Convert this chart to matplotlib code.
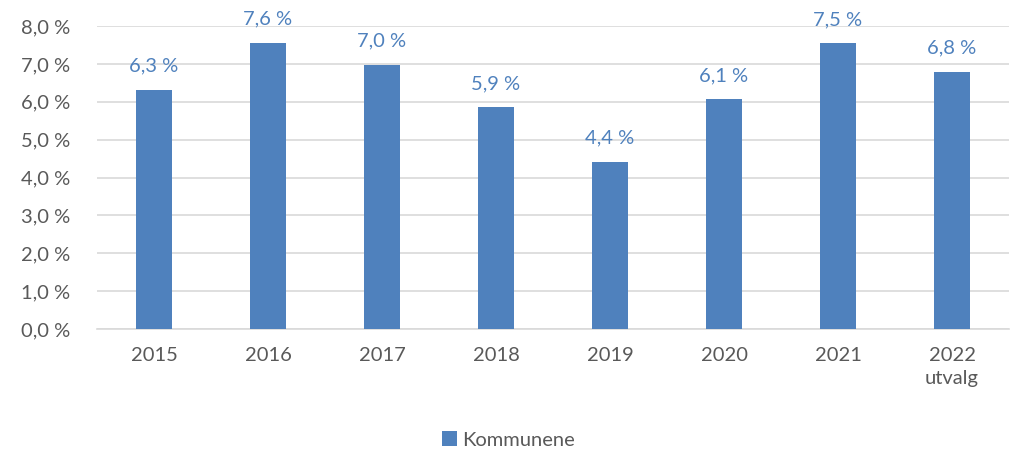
import matplotlib.pyplot as plt
import numpy as np

plt.rcParams['font.family'] = ['Lato', 'DejaVu Sans']

years = ['2015', '2016', '2017', '2018', '2019', '2020', '2021', '2022\nutvalg']
kommunene = [6.31, 7.56, 6.98, 5.86, 4.41, 6.06, 7.54, 6.79]
yticks = [0, 1, 2, 3, 4, 5, 6, 7, 8]

bar_col = '#4F81BD'
txt_col = '#595959'

fig = plt.figure(figsize=(10.17, 4.53), dpi=100)
ax = fig.add_axes([97 / 1017, (453 - 329) / 453, 912 / 1017, 303 / 453])

x = np.arange(len(years))
bars = ax.bar(x, kommunene, width=0.31, color=bar_col, label='Kommunene', zorder=3)

for xi, v in zip(x, kommunene):
    ax.text(xi, v + 0.4, f"{v:.1f} %".replace('.', ','), ha='center', va='bottom',
            color=bar_col, fontsize=14.5)

ax.set_xlim(-0.5, len(years) - 0.5)
ax.set_ylim(0, 8)
ax.set_yticks(yticks)
ax.set_yticklabels([f"{t:.1f} %".replace('.', ',') for t in yticks])
ax.set_xticks(x)
ax.set_xticklabels(years, linespacing=1.45)
ax.tick_params(axis='both', length=0, colors=txt_col, labelsize=14.5)
ax.tick_params(axis='x', pad=13)
ax.tick_params(axis='y', pad=19)
ax.yaxis.grid(True, color='#D9D9D9', linewidth=1.2, zorder=0)
for s in ['top', 'right', 'left']:
    ax.spines[s].set_visible(False)
ax.spines['bottom'].set_color('#D9D9D9')
ax.spines['bottom'].set_linewidth(1.2)

fig.legend(loc='center', bbox_to_anchor=(0.5, 1 - 440 / 453), frameon=False,
           fontsize=14.5, labelcolor=txt_col, handlelength=0.75, handleheight=0.75,
           handletextpad=0.25)

fig.savefig('out.png', dpi=100)
